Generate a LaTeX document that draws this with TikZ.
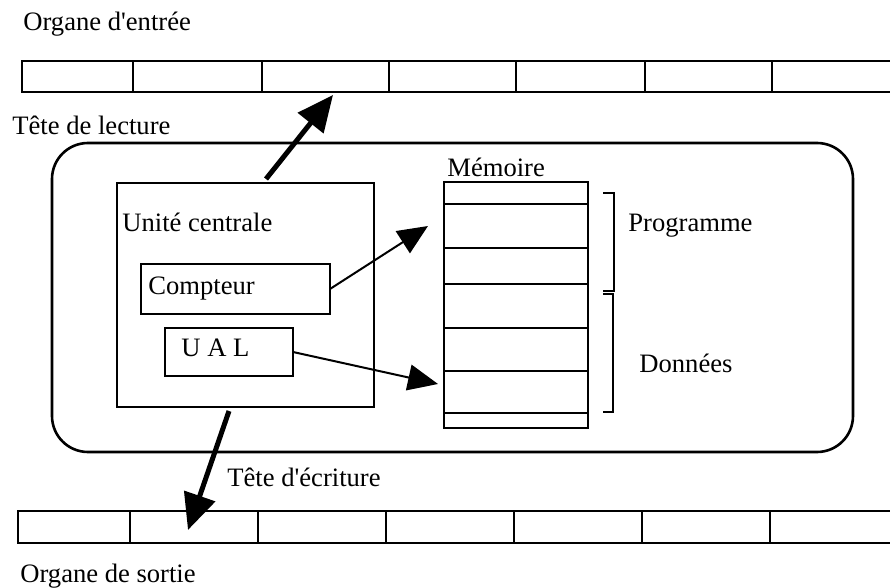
\documentclass[tikz,border=0pt]{standalone}
\usepackage{fontspec}
\setmainfont{Liberation Serif}
\usetikzlibrary{arrows.meta}
\tikzstyle{every node}=[font=\fontsize{13.3}{16}\selectfont]
\tikzstyle{cell}=[draw, line width=1.3pt, inner sep=0pt, outer sep=0pt, minimum height=15.5pt]
\tikzstyle{boite}=[draw, line width=1.3pt, inner sep=0pt, outer sep=0pt]
\tikzstyle{texte}=[anchor=base west, inner sep=0pt]
\tikzstyle{tete}=[line width=2.5pt, -{Triangle[length=18pt,width=16pt]}]
\tikzstyle{lien}=[line width=1pt, -{Triangle[length=15pt,width=13pt]}]

\begin{document}
\begin{tikzpicture}[x=0.5pt, y=-0.5pt]
        \useasboundingbox (0,0) rectangle (890,588);

        \foreach \a/\b [count=\i] in {22/133,133/262,262/389,389/516,516/645,645/772,772/900}
            \node[cell, anchor=north west, minimum width={(\b-\a)*0.5pt}] (in\i) at (\a,61) {};
        \foreach \a/\b [count=\i] in {18/130,130/258,258/386,386/514,514/642,642/770,770/900}
            \node[cell, anchor=north west, minimum width={(\b-\a)*0.5pt}, minimum height=16pt] (out\i) at (\a,511) {};

        \node[boite, rounded corners=18pt, anchor=north west, minimum width=400.5pt, minimum height=154.5pt] (machine) at (52,143) {};
        \node[boite, anchor=north west, minimum width=128.5pt, minimum height=112pt] (unite) at (117,183) {};
        \node[boite, anchor=north west, minimum width=94.5pt, minimum height=25pt] (compteur) at (141,264) {};
        \node[boite, anchor=north west, minimum width=64pt, minimum height=24pt] (ual) at (165,328) {};

        \foreach \a/\b [count=\i] in {182/204,204/248,248/284,284/328,328/371,371/413,413/428}
            \node[cell, anchor=north west, minimum width=72pt, minimum height={(\b-\a)*0.5pt}] (mem\i) at (444,\a) {};

        \draw[line width=1.3pt] (603,193) -| (614,291) -- (603,291);
        \draw[line width=1.3pt] (603,294) -| (613,412) -- (603,412);

        \node[texte] (entree) at (23,31) {Organe d\textquotesingle entrée};
        \node[texte] (lecture) at (12,135) {Tête de lecture};
        \node[texte] (memoire) at (447,177) {Mémoire};
        \node[texte] (uctexte) at (122,232) {Unité centrale};
        \node[texte] (cptexte) at (148,295) {Compteur};
        \node[texte] (ualtexte) at (181,357) {U A L};
        \node[texte] (prog) at (628,232) {Programme};
        \node[texte] (donnees) at (639,373) {Données};
        \node[texte] (ecriture) at (227,487) {Tête d\textquotesingle écriture};
        \node[texte] (sortie) at (20,582) {Organe de sortie};

        \draw[tete] ([xshift=10.25pt,yshift=2pt]unite.north) -- ([xshift=3.75pt,yshift=-1.5pt]in3.south);
        \draw[tete] ([xshift=-8.25pt,yshift=-2pt]unite.south) -- ([xshift=-3pt,yshift=-1.5pt]out2.center);
        \draw[lien] (compteur.east) -- ([xshift=-8pt]mem2.west);
        \draw[lien] (ual.east) -- ([xshift=-3pt,yshift=4pt]mem6.west);
    \end{tikzpicture}
\end{document}
